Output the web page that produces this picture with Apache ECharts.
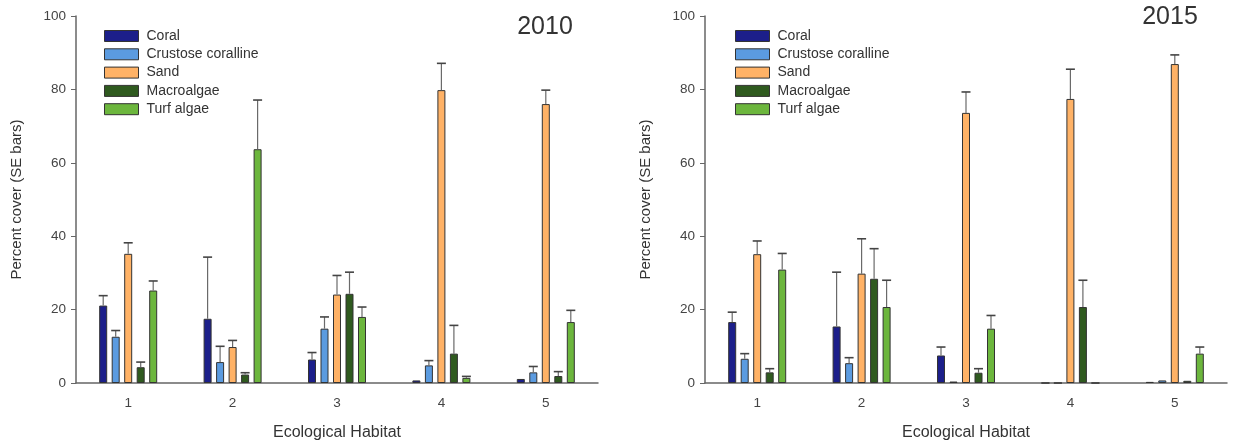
<!DOCTYPE html>
<html>
<head>
<meta charset="utf-8">
<script src="https://cdn.jsdelivr.net/npm/echarts@6/dist/echarts.min.js"></script>
<style>html,body{margin:0;padding:0;background:#fff}#c{width:1233px;height:446px}</style>
</head>
<body>
<div id="c"></div>
<script>
const categories = ['1', '2', '3', '4', '5'];
const seriesNames = ['Coral', 'Crustose coralline', 'Sand', 'Macroalgae', 'Turf algae'];
const yTicks = [0, 20, 40, 60, 80, 100];

// 2010 means and SE
const coral2010 = [21.1, 17.5, 6.4, 0.7, 1.1];
const coral2010Se = [2.7, 16.8, 1.9, 0, 0];
const crust2010 = [12.6, 5.7, 14.8, 4.8, 2.9];
const crust2010Se = [1.7, 4.3, 3.2, 1.3, 1.6];
const sand2010 = [35.2, 9.8, 24.1, 79.8, 76.0];
const sand2010Se = [3.0, 1.8, 5.2, 7.3, 3.8];
const macro2010 = [4.3, 2.3, 24.3, 8.0, 1.9];
const macro2010Se = [1.4, 0.5, 5.9, 7.7, 1.2];
const turf2010 = [25.2, 63.7, 18.0, 1.4, 16.6];
const turf2010Se = [2.6, 13.4, 2.7, 0.4, 3.2];

// 2015 means and SE
const coral2015 = [16.6, 15.4, 7.5, 0, 0.3];
const coral2015Se = [2.7, 14.8, 2.3, 0, 0];
const crust2015 = [6.6, 5.4, 0.4, 0, 0.7];
const crust2015Se = [1.4, 1.5, 0, 0, 0];
const sand2015 = [35.1, 29.8, 73.6, 77.4, 86.9];
const sand2015Se = [3.6, 9.5, 5.7, 8.1, 2.5];
const macro2015 = [2.9, 28.4, 2.8, 20.7, 0.6];
const macro2015Se = [1.0, 8.2, 1.1, 7.3, 0];
const turf2015 = [30.9, 20.7, 14.8, 0, 8.0];
const turf2015Se = [4.4, 7.3, 3.6, 0, 1.8];

const colors = ['#1c1f8a', '#5b9be0', '#ffb266', '#2f5a1f', '#6cb63d'];
const panels = [
  { year: '2010', means: [coral2010, crust2010, sand2010, macro2010, turf2010], ses: [coral2010Se, crust2010Se, sand2010Se, macro2010Se, turf2010Se] },
  { year: '2015', means: [coral2015, crust2015, sand2015, macro2015, turf2015], ses: [coral2015Se, crust2015Se, sand2015Se, macro2015Se, turf2015Se] }
];

const BAR_W = 8, BAR_GAP = 4.5;
const FONT = 'Liberation Sans, Arial, sans-serif';

const chart = echarts.init(document.getElementById('c'), null, { renderer: 'canvas' });

const grids = [
  { left: 76, right: 635, top: 16, bottom: 63 },
  { left: 705, right: 6, top: 16, bottom: 63 }
];

const xAxes = grids.map((g, i) => ({
  type: 'category', gridIndex: i, data: categories,
  name: 'Ecological Habitat', nameLocation: 'middle', nameGap: 42,
  nameTextStyle: { fontFamily: FONT, fontSize: 16, color: '#333' },
  axisLine: { lineStyle: { color: '#666', width: 1.5 } },
  axisTick: { alignWithLabel: true, length: 4, lineStyle: { color: '#666' } },
  axisLabel: { fontFamily: FONT, fontSize: 13.5, color: '#444', margin: 13 },
  splitLine: { show: false }
}));

const yAxes = grids.map((g, i) => ({
  type: 'value', gridIndex: i, min: yTicks[0], max: yTicks[yTicks.length - 1], interval: yTicks[1] - yTicks[0],
  name: 'Percent cover (SE bars)', nameLocation: 'middle', nameGap: 52,
  nameTextStyle: { fontFamily: FONT, fontSize: 15, color: '#333' },
  axisLine: { show: true, lineStyle: { color: '#666', width: 1.5 } },
  axisTick: { show: true, length: 5, lineStyle: { color: '#666' } },
  axisLabel: { fontFamily: FONT, fontSize: 13.5, color: '#444', margin: 10 },
  splitLine: { show: false }
}));

const series = [];
panels.forEach((p, pi) => {
  seriesNames.forEach((name, si) => {
    series.push({
      type: 'bar', name: name, xAxisIndex: pi, yAxisIndex: pi,
      data: p.means[si], barWidth: BAR_W, barGap: (BAR_GAP / BAR_W * 100) + '%',
      itemStyle: { color: colors[si], borderColor: '#333', borderWidth: 1 },
      emphasis: { disabled: true }, z: 2
    });
  });
  seriesNames.forEach((name, si) => {
    const data = categories.map((c, ci) => [ci, p.means[si][ci], p.means[si][ci] + p.ses[si][ci], p.ses[si][ci]]);
    series.push({
      type: 'custom', xAxisIndex: pi, yAxisIndex: pi, z: 3, silent: true,
      data: data,
      renderItem: function (params, api) {
        if (api.value(3) <= 0) return null;
        const off = (si - 2) * (BAR_W + BAR_GAP);
        const base = api.coord([api.value(0), api.value(1)]);
        const top = api.coord([api.value(0), api.value(2)]);
        const x = base[0] + off;
        return {
          type: 'group',
          children: [
            { type: 'line', shape: { x1: x, y1: base[1], x2: x, y2: top[1] }, style: { stroke: '#6a6a6a', lineWidth: 1.2 } },
            { type: 'line', shape: { x1: x - 4.5, y1: top[1], x2: x + 4.5, y2: top[1] }, style: { stroke: '#444', lineWidth: 1.6 } }
          ]
        };
      }
    });
  });
});

const legendCommon = {
  orient: 'vertical', itemWidth: 34, itemHeight: 11, itemGap: 4.3, icon: 'rect',
  textStyle: { fontFamily: FONT, fontSize: 14, color: '#333', padding: [0, 0, 0, 3] },
  itemStyle: { borderColor: '#333', borderWidth: 1 },
  data: seriesNames, selectedMode: false, padding: 0
};

chart.setOption({
  animation: false,
  backgroundColor: '#fff',
  grid: grids,
  xAxis: xAxes,
  yAxis: yAxes,
  legend: [
    Object.assign({ left: 104, top: 29 }, legendCommon),
    Object.assign({ left: 735, top: 29 }, legendCommon)
  ],
  graphic: [
    { type: 'text', x: 545, y: 27, style: { text: '2010', fontFamily: FONT, fontSize: 25, fill: '#333', align: 'center', verticalAlign: 'middle' } },
    { type: 'text', x: 1170, y: 17, style: { text: '2015', fontFamily: FONT, fontSize: 25, fill: '#333', align: 'center', verticalAlign: 'middle' } }
  ],
  series: series
});
</script>
</body>
</html>
